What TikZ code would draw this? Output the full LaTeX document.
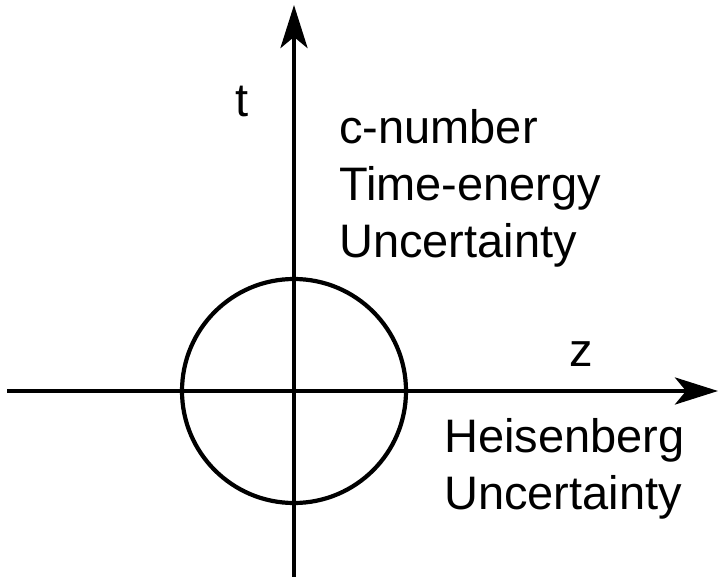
\documentclass[tikz,border=0pt]{standalone}
\usepackage{fontspec}
\setmainfont{Liberation Sans}
\usepackage{tikz}
\usetikzlibrary{arrows.meta,positioning}

\begin{document}
\begin{tikzpicture}[
  x=1pt, y=-1pt,
  font=\fontsize{47}{57}\selectfont,
  axis/.style ={line width=4.6pt,-{Stealth[length=43pt,width=27pt,inset=11pt]}},
  ring/.style ={line width=4.2pt},
  lbl/.style  ={inner sep=0pt,align=left}]

\useasboundingbox (0,0) rectangle (720,577);

% ---------- axes ----------
\coordinate (o)    at (294,391);
\coordinate (tlow) at (294,577);
\coordinate (ttop) at (294,5);
\coordinate (zlow) at (7,391);
\coordinate (ztop) at (718,391);

\draw[axis] (tlow) -- (ttop);
\draw[axis] (zlow) -- (ztop);

% ---------- circle ----------
\draw[ring] (o) circle (112pt);

% ---------- labels ----------
\node[lbl,anchor=base west] (tlbl) at (235,117) {t};
\node[lbl,anchor=base west] (zlbl) at (569,366) {z};
\node[lbl,anchor=north west] (cnum) at (339,109) {c-number\\Time-energy\\Uncertainty};
\node[lbl,anchor=north west] (heis) at (444,418) {Heisenberg\\Uncertainty};

\end{tikzpicture}
\end{document}
